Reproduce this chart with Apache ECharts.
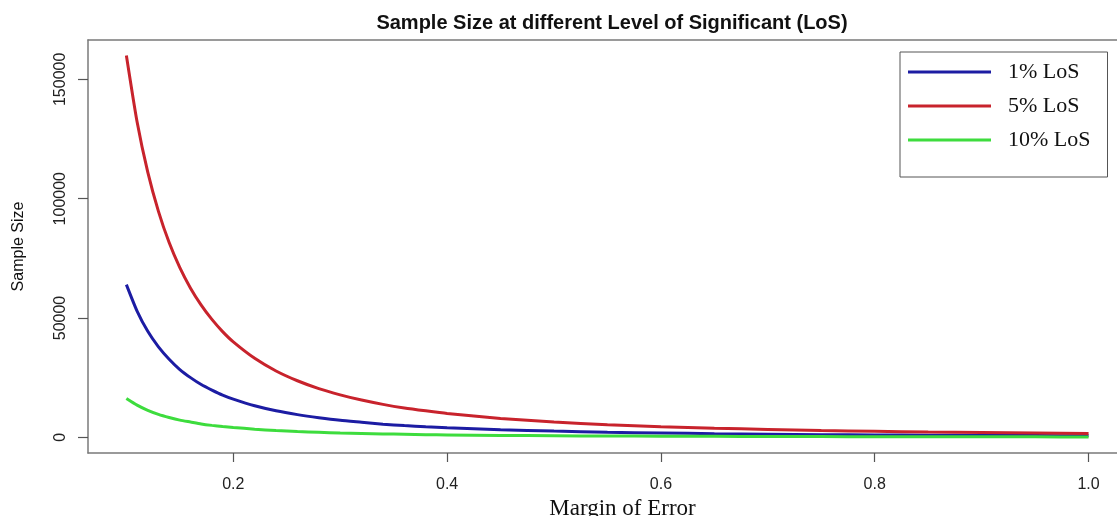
<!DOCTYPE html>
<html>
<head>
<meta charset="utf-8">
<script src="https://cdn.jsdelivr.net/npm/echarts@6/dist/echarts.min.js"></script>
<style>
html,body{margin:0;padding:0;background:#fff;}
#chart{width:1117px;height:516px;}
</style>
</head>
<body>
<div id="chart"></div>
<script>
// Margin of error values (x)
var margins = [0.10,0.11,0.12,0.13,0.14,0.15,0.16,0.17,0.18,0.19,0.20,0.22,0.24,0.26,0.28,0.30,0.32,0.34,0.36,0.38,0.40,0.45,0.50,0.55,0.60,0.65,0.70,0.75,0.80,0.85,0.90,0.95,1.00];
// Sample sizes
var los1 = [64000,52900,44400,37900,32700,28400,25000,22100,19800,17700,16000,13200,11100,9500,8200,7100,6300,5500,4900,4400,4000,3200,2600,2100,1800,1500,1300,1100,1000,890,790,710,640];
var los5 = [160000,132200,111100,94700,81600,71100,62500,55400,49400,44300,40000,33100,27800,23700,20400,17800,15600,13800,12300,11100,10000,7900,6400,5300,4400,3800,3300,2800,2500,2200,2000,1800,1600];
var los10 = [16300,13500,11300,9600,8300,7200,6400,5600,5000,4500,4100,3400,2800,2400,2100,1800,1600,1400,1300,1100,1000,800,650,540,450,390,330,290,250,230,200,180,160];
var seriesNames = ['1% LoS','5% LoS','10% LoS'];
var xTicks = [0.2,0.4,0.6,0.8,1.0];
var yTicks = [0,50000,100000,150000];

function pairs(ys){ return margins.map(function(x,i){ return [x, ys[i]]; }); }

var chart = echarts.init(document.getElementById('chart'), null, {renderer:'canvas'});
var axisGray = '#7a7a7a';
var option = {
  backgroundColor:'#ffffff',
  animation:false,
  title:{
    text:'Sample Size at different Level of Significant (LoS)',
    left:607, top:8, textAlign:'center',
    textStyle:{fontFamily:'Liberation Sans, Arial, sans-serif', fontWeight:'bold', fontSize:20, color:'#111'}
  },
  grid:{left:88, right:0, top:40, bottom:63, outerBoundsMode:'none', containLabel:false, show:false},
  legend:{
    orient:'vertical', left:900, top:52,
    data:seriesNames,
    icon:'rect',
    itemWidth:83, itemHeight:3, itemGap:12,
    padding:[9,17,26,8],
    borderColor:'#555', borderWidth:1,
    textStyle:{fontFamily:'Liberation Serif, Times New Roman, serif', fontSize:22, lineHeight:22, color:'#111', padding:[0,0,0,12]}
  },
  xAxis:[{
    type:'value', min:0.0641, max:1.0266, position:'bottom',
    name:'Margin of Error', nameLocation:'middle', nameGap:40,
    nameTextStyle:{fontFamily:'Liberation Serif, Times New Roman, serif', fontSize:23, color:'#111', padding:[0,0,0,40]},
    splitLine:{show:false},
    axisLine:{show:true, onZero:false, lineStyle:{color:axisGray, width:1.5}},
    axisTick:{show:true, length:9, lineStyle:{color:'#555', width:1.2}, customValues:xTicks},
    axisLabel:{fontFamily:'Liberation Sans, Arial, sans-serif', fontSize:16, color:'#222', margin:24,
      customValues:xTicks, formatter:function(v){return v.toFixed(1);}}
  },{
    type:'value', min:0.0641, max:1.0266, position:'top',
    splitLine:{show:false},
    axisLine:{show:true, onZero:false, lineStyle:{color:axisGray, width:1.5}},
    axisTick:{show:false}, axisLabel:{show:false}
  }],
  yAxis:{
    type:'value', min:-6580, max:166500,
    name:'Sample Size', nameLocation:'middle', nameGap:61, nameRotate:90,
    nameTextStyle:{fontFamily:'Liberation Sans, Arial, sans-serif', fontSize:16, color:'#111'},
    splitLine:{show:false},
    axisLine:{show:true, onZero:false, lineStyle:{color:axisGray, width:1.5}},
    axisTick:{show:true, length:10, lineStyle:{color:'#555', width:1.2}, customValues:yTicks},
    axisLabel:{fontFamily:'Liberation Sans, Arial, sans-serif', fontSize:16, color:'#222', margin:19, rotate:90,
      customValues:yTicks, formatter:function(v){return String(v);}}
  },
  series:[
    {name:seriesNames[0], type:'line', data:pairs(los1), symbol:'none', smooth:0.2,
      lineStyle:{color:'#1c1ca3', width:3}, itemStyle:{color:'#1c1ca3'}},
    {name:seriesNames[1], type:'line', data:pairs(los5), symbol:'none', smooth:0.2,
      lineStyle:{color:'#c8232c', width:3}, itemStyle:{color:'#c8232c'}},
    {name:seriesNames[2], type:'line', data:pairs(los10), symbol:'none', smooth:0.2,
      lineStyle:{color:'#3ddc3d', width:3}, itemStyle:{color:'#3ddc3d'}}
  ]
};
chart.setOption(option);
</script>
</body>
</html>
